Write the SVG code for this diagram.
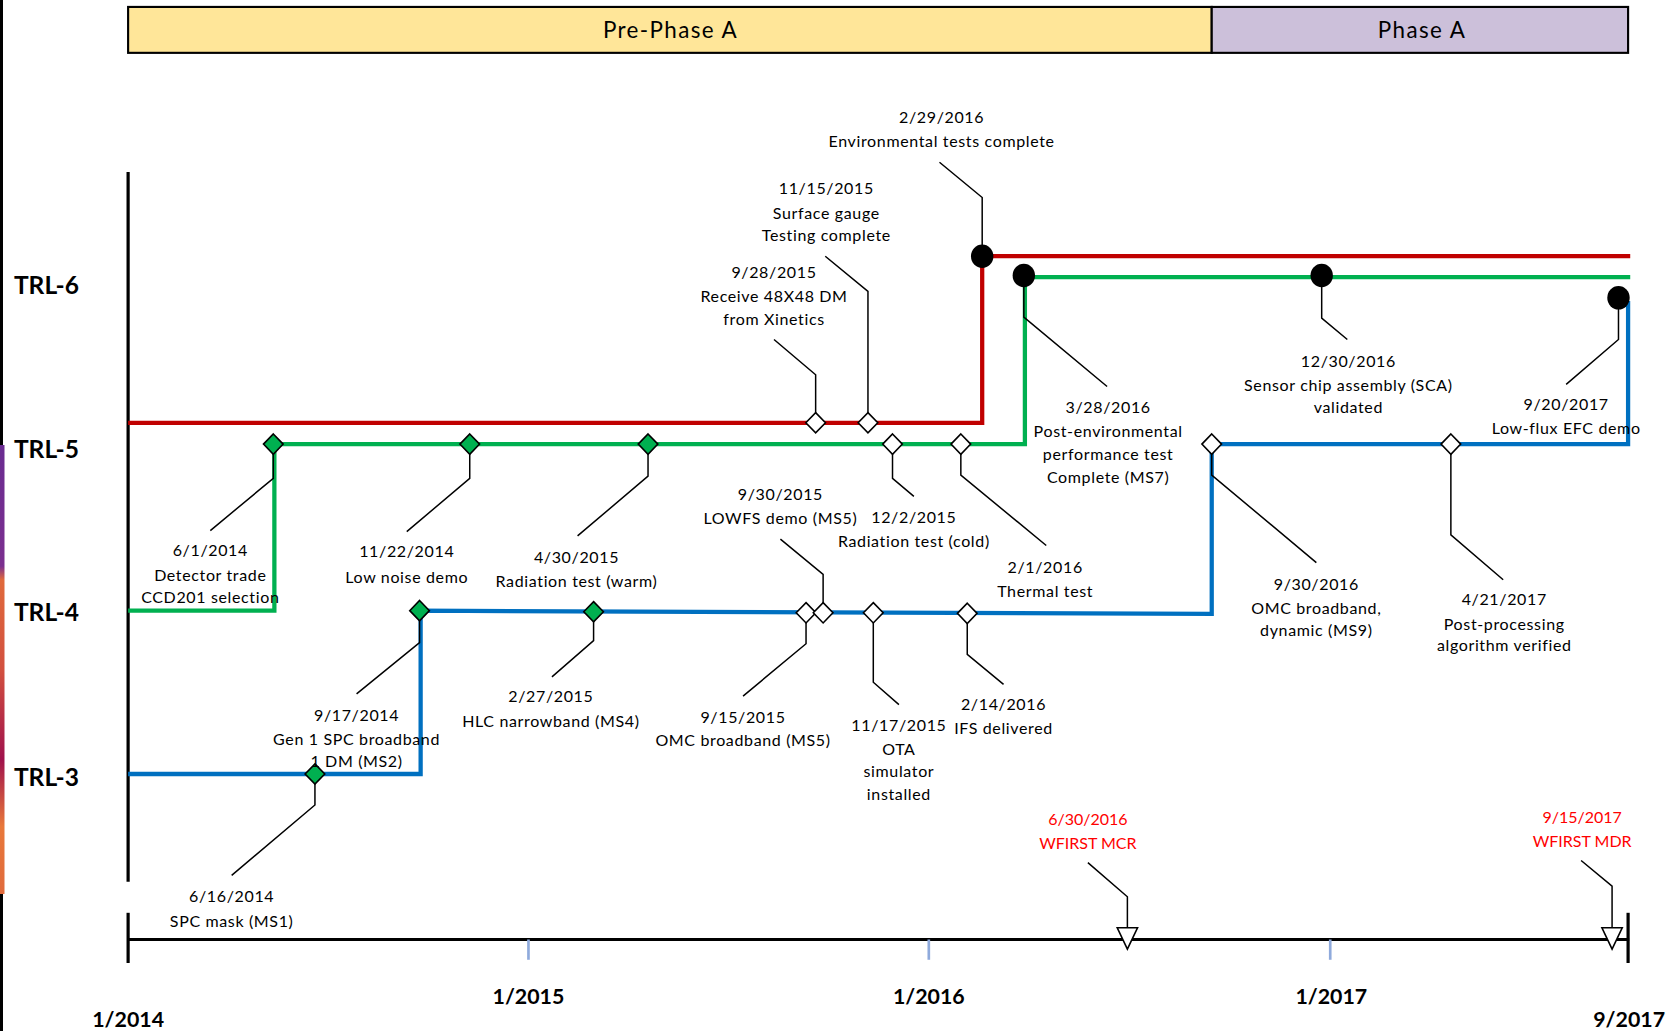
<svg xmlns="http://www.w3.org/2000/svg" xmlns:xlink="http://www.w3.org/1999/xlink" width="1674" height="1031" viewBox="0 0 1674 1031">
<style>
text{font-family:Lato,"Liberation Sans",sans-serif;fill:#000}
.t{font-size:15px;text-anchor:middle;letter-spacing:0.6px}
.rt{font-size:15px;text-anchor:middle;fill:#FF0000}
.trl{font-size:23px;font-weight:bold}
.yr{font-size:20px;font-weight:bold;text-anchor:middle}
.ph{font-size:21px;text-anchor:middle;letter-spacing:1.3px}
.ld{stroke:#000;stroke-width:1.4;fill:none}
.lr{stroke:#C00000;stroke-width:4;fill:none}
.lg{stroke:#00B050;stroke-width:4;fill:none}
.lb{stroke:#0070C0;stroke-width:4;fill:none}
.dg{fill:#00B050;stroke:#000;stroke-width:1.5}
.dw{fill:#FFFFFF;stroke:#000;stroke-width:1.5}
.cb{fill:#000}
.tri{fill:#FFFFFF;stroke:#000;stroke-width:1.5}
</style>
<defs>
<path id="dia" d="M0,-9.5 L9.2,0 L0,9.5 L-9.2,0Z"/>
<linearGradient id="edge" x1="0" y1="0" x2="0" y2="1">
<stop offset="0" stop-color="#6A2C91"/>
<stop offset="0.27" stop-color="#7B2F8F"/>
<stop offset="0.3" stop-color="#E06A3C"/>
<stop offset="0.5" stop-color="#D2503F"/>
<stop offset="0.7" stop-color="#A0124C"/>
<stop offset="0.85" stop-color="#E8783A"/>
<stop offset="1" stop-color="#E06A3C"/>
</linearGradient>
</defs>
<rect x="0" y="0" width="1674" height="1031" fill="#FFFFFF"/>
<rect x="0" y="0" width="3" height="1031" fill="#000"/>
<rect x="0" y="445" width="4.5" height="449" fill="url(#edge)"/>
<g transform="scale(1.0676)">
<g id="phases">
<g id="pre-phase-a"><rect x="120" y="6.5" width="1015" height="43" fill="#FFE699" stroke="#000" stroke-width="2"/><text class="ph" x="628" y="36">Pre-Phase A</text></g>
<g id="phase-a"><rect x="1135" y="6.5" width="390" height="43" fill="#CCC0DA" stroke="#000" stroke-width="2"/><text class="ph" x="1332" y="36">Phase A</text></g>
</g>
<g id="axes">
<line x1="120" y1="161" x2="120" y2="826" stroke="#000" stroke-width="3"/>
<line x1="120" y1="880" x2="1526" y2="880" stroke="#000" stroke-width="3"/>
<line x1="120" y1="855" x2="120" y2="902" stroke="#000" stroke-width="3"/>
<line x1="1525" y1="855" x2="1525" y2="902" stroke="#000" stroke-width="3"/>
<line x1="495" y1="880" x2="495" y2="899" stroke="#8FAADC" stroke-width="2.5"/>
<line x1="870" y1="880" x2="870" y2="899" stroke="#8FAADC" stroke-width="2.5"/>
<line x1="1246" y1="880" x2="1246" y2="899" stroke="#8FAADC" stroke-width="2.5"/>
<text class="trl" x="13" y="275">TRL-6</text>
<text class="trl" x="13" y="429">TRL-5</text>
<text class="trl" x="13" y="582">TRL-4</text>
<text class="trl" x="13" y="736">TRL-3</text>
<text class="yr" x="120" y="962">1/2014</text>
<text class="yr" x="495" y="940">1/2015</text>
<text class="yr" x="870" y="940">1/2016</text>
<text class="yr" x="1247" y="940">1/2017</text>
<text class="yr" x="1526" y="962">9/2017</text>
</g>
<g id="connectors">
<path class="lr" d="M120,396 H920 V240 H1527"/>
<path class="lg" d="M120,572 H257 V416 H960 V259.5 H1527"/>
<path class="lb" d="M120,725 H394 V572 L1135,575 V416 H1525 V282"/>
<polyline class="ld" points="256,416 256,448 197,497"/>
<polyline class="ld" points="440,416 440,448 381,498"/>
<polyline class="ld" points="607,416 607,446 541,502"/>
<polyline class="ld" points="836,416 836,448 856,465"/>
<polyline class="ld" points="900,416 900,445 980,511"/>
<polyline class="ld" points="959,258 959,297 1037,362"/>
<polyline class="ld" points="1238,258 1238,298 1262,318"/>
<polyline class="ld" points="764,396 764,351 725,318"/>
<polyline class="ld" points="813,396 813,273 773,240"/>
<polyline class="ld" points="920,240 920,185 880,152"/>
<polyline class="ld" points="295,725 295,754 217,820"/>
<polyline class="ld" points="393,572 393,602 334,650"/>
<polyline class="ld" points="556,573 556,600 517,634"/>
<polyline class="ld" points="755,574 755,603 696,652"/>
<polyline class="ld" points="771,574 771,538 731,505"/>
<polyline class="ld" points="818,574 818,639 842,660"/>
<polyline class="ld" points="906,574 906,613 940,641"/>
<polyline class="ld" points="1135,416 1135,445 1233,527"/>
<polyline class="ld" points="1359,416 1359,501 1408,543"/>
<polyline class="ld" points="1516,279 1516,318 1467,360"/>
<polyline class="ld" points="1019,808 1056,840 1056,869"/>
<polyline class="ld" points="1481,806 1510,830 1510,869"/>
</g>
<g id="ms-2014-06-01"><use href="#dia" class="dg" x="256" y="416"/><text class="t" x="197" y="521">6/1/2014</text><text class="t" x="197" y="544">Detector trade</text><text class="t" x="197" y="565">CCD201 selection</text></g>
<g id="ms-2014-11-22"><use href="#dia" class="dg" x="440" y="416"/><text class="t" x="381" y="522">11/22/2014</text><text class="t" x="381" y="546">Low noise demo</text></g>
<g id="ms-2015-04-30"><use href="#dia" class="dg" x="607" y="416"/><text class="t" x="540" y="527">4/30/2015</text><text class="t" x="540" y="550">Radiation test (warm)</text></g>
<g id="ms-2015-12-02"><use href="#dia" class="dw" x="836" y="416"/><text class="t" x="856" y="490">12/2/2015</text><text class="t" x="856" y="512">Radiation test (cold)</text></g>
<g id="ms-2016-02-01"><use href="#dia" class="dw" x="900" y="416"/><text class="t" x="979" y="537">2/1/2016</text><text class="t" x="979" y="559">Thermal test</text></g>
<g id="ms-2016-03-28"><ellipse class="cb" cx="959" cy="258" rx="10.5" ry="11"/><text class="t" x="1038" y="387">3/28/2016</text><text class="t" x="1038" y="409.5">Post-environmental</text><text class="t" x="1038" y="430.5">performance test</text><text class="t" x="1038" y="452">Complete (MS7)</text></g>
<g id="ms-2016-12-30"><ellipse class="cb" cx="1238" cy="258" rx="10.5" ry="11"/><text class="t" x="1263" y="343.5">12/30/2016</text><text class="t" x="1263" y="366.5">Sensor chip assembly (SCA)</text><text class="t" x="1263" y="386.5">validated</text></g>
<g id="ms-2015-09-28"><use href="#dia" class="dw" x="764" y="396"/><text class="t" x="725" y="260.5">9/28/2015</text><text class="t" x="725" y="283">Receive 48X48 DM</text><text class="t" x="725" y="304.5">from Xinetics</text></g>
<g id="ms-2015-11-15"><use href="#dia" class="dw" x="813" y="396"/><text class="t" x="774" y="182">11/15/2015</text><text class="t" x="774" y="205">Surface gauge</text><text class="t" x="774" y="225.5">Testing complete</text></g>
<g id="ms-2016-02-29"><ellipse class="cb" cx="920" cy="240" rx="10.5" ry="11"/><text class="t" x="882" y="115.5">2/29/2016</text><text class="t" x="882" y="138">Environmental tests complete</text></g>
<g id="ms-2014-06-16"><use href="#dia" class="dg" x="295" y="725"/><text class="t" x="217" y="845">6/16/2014</text><text class="t" x="217" y="868">SPC mask (MS1)</text></g>
<g id="ms-2014-09-17"><use href="#dia" class="dg" x="393" y="572"/><text class="t" x="334" y="675">9/17/2014</text><text class="t" x="334" y="697.5">Gen 1 SPC broadband</text><text class="t" x="334" y="718">1 DM (MS2)</text></g>
<g id="ms-2015-02-27"><use href="#dia" class="dg" x="556" y="573"/><text class="t" x="516" y="658">2/27/2015</text><text class="t" x="516" y="681">HLC narrowband (MS4)</text></g>
<g id="ms-2015-09-15"><use href="#dia" class="dw" x="755" y="574"/><text class="t" x="696" y="677">9/15/2015</text><text class="t" x="696" y="699">OMC broadband (MS5)</text></g>
<g id="ms-2015-09-30"><use href="#dia" class="dw" x="771" y="574"/><text class="t" x="731" y="468">9/30/2015</text><text class="t" x="731" y="491">LOWFS demo (MS5)</text></g>
<g id="ms-2015-11-17"><use href="#dia" class="dw" x="818" y="574"/><text class="t" x="842" y="684.5">11/17/2015</text><text class="t" x="842" y="707">OTA</text><text class="t" x="842" y="728">simulator</text><text class="t" x="842" y="749">installed</text></g>
<g id="ms-2016-02-14"><use href="#dia" class="dw" x="906" y="574.5"/><text class="t" x="940" y="665">2/14/2016</text><text class="t" x="940" y="687.5">IFS delivered</text></g>
<g id="ms-2016-09-30"><use href="#dia" class="dw" x="1135" y="416"/><text class="t" x="1233" y="552.5">9/30/2016</text><text class="t" x="1233" y="575">OMC broadband,</text><text class="t" x="1233" y="595.5">dynamic (MS9)</text></g>
<g id="ms-2017-04-21"><use href="#dia" class="dw" x="1359" y="416"/><text class="t" x="1409" y="566.5">4/21/2017</text><text class="t" x="1409" y="590">Post-processing</text><text class="t" x="1409" y="609.5">algorithm verified</text></g>
<g id="ms-2017-09-20"><ellipse class="cb" cx="1516" cy="279" rx="10.5" ry="11"/><text class="t" x="1467" y="384">9/20/2017</text><text class="t" x="1467" y="406.5">Low-flux EFC demo</text></g>
<g id="ms-wfirst-mcr"><path class="tri" d="M1046.5,869 L1065.5,869 L1056,889Z"/><text class="rt" x="1019" y="773">6/30/2016</text><text class="rt" x="1019" y="795.5">WFIRST MCR</text></g>
<g id="ms-wfirst-mdr"><path class="tri" d="M1500.5,869 L1519.5,869 L1510,889Z"/><text class="rt" x="1482" y="771">9/15/2017</text><text class="rt" x="1482" y="793">WFIRST MDR</text></g>
</g>
</svg>
